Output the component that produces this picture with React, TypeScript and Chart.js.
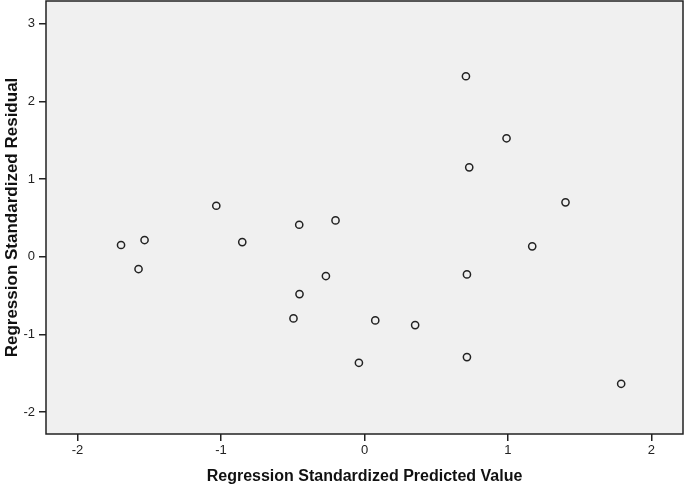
import React, { useEffect, useRef } from "react";
import { Chart, registerables } from "chart.js";

Chart.register(...registerables);

const predicted = [
  -1.697, -1.575, -1.533, -1.033, -0.852, -0.495, -0.455, -0.453, -0.269, -0.202,
  -0.039, 0.075, 0.353, 0.707, 0.730, 0.714, 0.714, 0.990, 1.169, 1.401, 1.789,
];
const residual = [
  0.151, -0.158, 0.215, 0.656, 0.189, -0.793, 0.412, -0.48, -0.248, 0.468,
  -1.364, -0.819, -0.879, 2.322, 1.150, -0.227, -1.291, 1.524, 0.134, 0.700, -1.634,
];
const xTicks = [-2, -1, 0, 1, 2];
const yTicks = [-2, -1, 0, 1, 2, 3];
const xTitle = "Regression Standardized Predicted Value";
const yTitle = "Regression Standardized Residual";

const FONT = "'Liberation Sans', Arial, Helvetica, sans-serif";

const plotFrame = {
  id: "plotFrame",
  beforeDraw(chart: any) {
    const { ctx, chartArea } = chart;
    ctx.save();
    ctx.fillStyle = "#f0f0f0";
    ctx.fillRect(chartArea.left, chartArea.top, chartArea.right - chartArea.left, chartArea.bottom - chartArea.top);
    ctx.restore();
  },
  afterDraw(chart: any) {
    const { ctx, chartArea } = chart;
    ctx.save();
    ctx.strokeStyle = "#222";
    ctx.lineWidth = 1.5;
    ctx.strokeRect(chartArea.left, chartArea.top, chartArea.right - chartArea.left, chartArea.bottom - chartArea.top);
    ctx.restore();
  },
};

export default function App() {
  const ref = useRef<HTMLCanvasElement>(null);
  useEffect(() => {
    if (!ref.current) return;
    const chart = new Chart(ref.current, {
      type: "scatter",
      data: {
        datasets: [
          {
            data: predicted.map((x, i) => ({ x, y: residual[i] })),
            pointStyle: "circle",
            pointRadius: 3.6,
            pointBorderWidth: 1.5,
            pointBorderColor: "#222",
            pointBackgroundColor: "rgba(0,0,0,0)",
            showLine: false,
          },
        ],
      },
      options: {
        animation: false,
        responsive: true,
        maintainAspectRatio: false,
        layout: { autoPadding: false, padding: { top: 1, right: 2, left: 0, bottom: 0 } },
        plugins: { legend: { display: false }, tooltip: { enabled: false } },
        scales: {
          x: {
            type: "linear",
            min: -2.22,
            max: 2.22,
            afterBuildTicks: (s: any) => {
              s.ticks = xTicks.map((v) => ({ value: v }));
            },
            afterFit: (s: any) => {
              s.height = 52;
              s.paddingLeft = 0;
              s.paddingRight = 0;
              s.paddingTop = 0;
              s.paddingBottom = 0;
            },
            border: { display: false },
            grid: { drawOnChartArea: false, drawTicks: true, tickLength: 7, color: "#222", lineWidth: 1.5 },
            ticks: { color: "#222", font: { family: FONT, size: 13 }, padding: 2, maxRotation: 0 },
            title: {
              display: true,
              text: xTitle,
              color: "#111",
              font: { family: FONT, size: 16, weight: "bold" },
              padding: { top: 0, bottom: 0 },
            },
          },
          y: {
            type: "linear",
            min: -2.28,
            max: 3.29,
            afterBuildTicks: (s: any) => {
              s.ticks = yTicks.map((v) => ({ value: v }));
            },
            afterFit: (s: any) => {
              s.width = 46;
              s.paddingLeft = 0;
              s.paddingRight = 0;
              s.paddingTop = 0;
              s.paddingBottom = 0;
            },
            border: { display: false },
            grid: { drawOnChartArea: false, drawTicks: true, tickLength: 7, color: "#222", lineWidth: 1.5 },
            ticks: { color: "#222", font: { family: FONT, size: 13 }, padding: 4 },
            title: {
              display: true,
              text: yTitle,
              color: "#111",
              font: { family: FONT, size: 17, weight: "bold" },
              padding: { top: 2, bottom: 0 },
            },
          },
        },
      },
      plugins: [plotFrame],
    });
    return () => chart.destroy();
  }, []);
  return (
    <div style={{ position: "absolute", left: 0, top: 0, width: 685, height: 486, background: "#fff" }}>
      <canvas ref={ref} />
    </div>
  );
}
